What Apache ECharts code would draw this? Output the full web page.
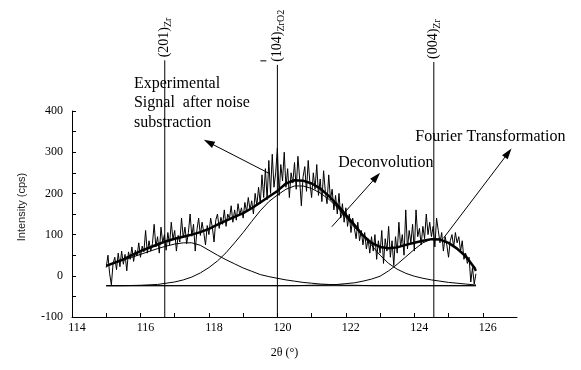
<!DOCTYPE html>
<html><head><meta charset="utf-8">
<script src="https://cdn.jsdelivr.net/npm/echarts@6/dist/echarts.min.js"></script>
<style>html,body{margin:0;padding:0;background:#fff}#c{width:581px;height:370px}</style>
</head><body><div id="c"></div>
<script>
// ---------- data ----------
const xTickLabels = [114, 116, 118, 120, 122, 124, 126];
const xTickMarks = [114, 115, 116, 117, 118, 119, 120, 121, 122, 123, 124, 125, 126];
const yTickLabels = [-100, 0, 100, 200, 300, 400];
const yTickMarks = [-100, -50, 0, 50, 100, 150, 200, 250, 300, 350, 400];

// experimental signal, sampled every 0.05 deg from 115.00 to 125.80
const signalStart = 115.0;
const signalStep = 0.05;
const signal = [
  20, 50, 5, -22, 30,
  45, 15, 55, 22, 60,
  28, 52, 12, 58, 40,
  70, 35, 62, 48, 80,
  45, 72, 58, 110, 55,
  85, 60, 78, 125, 70,
  95, 55, 118, 80, 100,
  62, 105, 75, 130, 88,
  110, 60, 98, 82, 140,
  92, 118, 78, 105, 150,
  96, 125, 60, 112, 140,
  98, 130, 105, 75, 122,
  100, 140, 118, 82, 135,
  150, 115, 142, 125, 160,
  120, 150, 138, 170, 130,
  160, 135, 175, 148, 165,
  140, 178, 155, 190, 160,
  182, 150, 200, 170, 215,
  175, 245, 190, 260, 185,
  280, 200, 295, 215, 250,
  310, 195, 270, 230, 300,
  215, 260, 190, 250, 225,
  275, 210, 290, 235, 170,
  240, 265, 205, 280, 225,
  190, 250, 210, 270, 195,
  235, 180, 255, 205, 175,
  245, 185, 210, 160, 195,
  150, 200, 140, 175, 130,
  165, 120, 150, 105, 140,
  115, 90, 130, 85, 110,
  75, 105, 65, 90, 55,
  95, 60, 100, 40, 85,
  55, 110, 30, 90, 60,
  120, 45, 85, 25, 95,
  55, 130, 70, 100, 50,
  160, 65, 110, 80, 125,
  60, 160, 95, 115, 75,
  120, 90, 150, 100, 130,
  95, 120, 70, 140, 110,
  80, 105, 60, 95, 75,
  45, 85, 100, 70, 105,
  80, 95, 60, 85, 40,
  55, 30, 45, -15, 20, -20, 5
];

// smooth curves, sampled on curveX
const curveX = [115, 115.25, 115.5, 115.75, 116, 116.25, 116.5, 116.75, 117, 117.25, 117.5, 117.75,
  118, 118.25, 118.5, 118.75, 119, 119.25, 119.5, 119.75, 120, 120.25, 120.5, 120.75,
  121, 121.25, 121.5, 121.75, 122, 122.25, 122.5, 122.75, 123, 123.25, 123.5, 123.75,
  124, 124.25, 124.5, 124.75, 125, 125.25, 125.5, 125.75, 125.8];
const fourierCurve = [24, 32, 40, 50, 60, 68, 76, 84, 90, 95, 100, 106,
  114, 124, 134, 143, 152, 164, 178, 192, 206, 224, 232, 231,
  224, 212, 194, 172, 148, 124, 98, 80, 70, 67, 69, 75,
  80, 85, 89, 88, 80, 66, 48, 20, 12];
const peakZr201 = [24, 31, 38, 45, 52, 59, 66, 72, 77, 80, 80, 74,
  62, 50, 39, 29, 19, 11, 3, -2, -6, -10, -13, -16,
  -18, -20, -21, -22, -23, -23, -23.5, -24, -24, -24, -24, -24,
  -24, -24, -24, -24, -24, -24, -24, -24, -24];
const peakZrO2 = [-24, -24, -24, -23.5, -23, -22, -21, -18, -15, -10, -3, 7,
  20, 36, 56, 80, 105, 132, 158, 180, 196, 210, 218, 218,
  212, 201, 186, 166, 142, 118, 96, 74, 50, 30, 16, 6,
  -1, -6, -10, -13, -16, -18, -20, -22, -22];
const peakZr004 = [-24, -24, -24, -24, -24, -24, -24, -24, -24, -24, -24, -24,
  -24, -24, -24, -24, -24, -24, -24, -24, -24, -24, -24, -23.5,
  -23, -22.5, -22, -21, -19, -17, -13, -8, -1, 12, 28, 46,
  64, 80, 89, 89, 80, 64, 44, 22, 18];
const baselineX = [115, 125.8];
const baselineY = [-24, -24];

// reflection positions (2theta) and their labels
const reflections = [116.71, 120.0, 124.57];
const reflectionLabels = ['(201){s|Zr}', '(104){s|ZrO2}', '(004){s|Zr}'];

// ---------- build ----------
const zip = (xs, ys) => xs.map((x, i) => [x, ys[i]]);
const signalData = signal.map((v, i) => [+(signalStart + i * signalStep).toFixed(2), v]);

const SERIF = '"Liberation Serif", "Times New Roman", serif';
const lineStyle = w => ({ color: '#000', width: w });
const mk = (name, data, w) => ({
  name, type: 'line', data, showSymbol: false, symbol: 'none',
  lineStyle: lineStyle(w), silent: true, animation: false, z: 3
});

const option = {
  animation: false,
  backgroundColor: '#fff',
  grid: { left: 72, right: 64, top: 111, bottom: 53, containLabel: false },
  xAxis: {
    type: 'value', min: 114, max: 127,
    name: '2θ (°)', nameLocation: 'middle', nameGap: 30,
    nameTextStyle: { fontFamily: SERIF, fontSize: 12, color: '#000', padding: [0, 20, 0, 0] },
    axisLine: { show: true, onZero: false, lineStyle: { color: '#000', width: 1 } },
    axisTick: { show: true, inside: true, length: 4, customValues: xTickMarks, lineStyle: { color: '#000' } },
    axisLabel: { customValues: xTickLabels, fontFamily: SERIF, fontSize: 12, color: '#000', margin: 5, padding: [0, 0, 0, 10] },
    splitLine: { show: false }
  },
  yAxis: {
    type: 'value', min: -100, max: 400,
    name: 'Intensity (cps)', nameLocation: 'middle', nameGap: 45, nameRotate: 90,
    nameTextStyle: { fontFamily: '"Liberation Sans", Arial, sans-serif', fontSize: 11, color: '#222', padding: [0, 0, 0, 14] },
    axisLine: { show: true, onZero: false, lineStyle: { color: '#000', width: 1 } },
    axisTick: { show: true, inside: true, length: 4, customValues: yTickMarks, lineStyle: { color: '#000' } },
    axisLabel: { customValues: yTickLabels, fontFamily: SERIF, fontSize: 12, color: '#000', margin: 9 },
    splitLine: { show: false }
  },
  series: [
    mk('Experimental signal', signalData, 1),
    mk('Fourier transformation', zip(curveX, fourierCurve), 2.5),
    mk('(201) Zr', zip(curveX, peakZr201), 1),
    mk('(-104) ZrO2', zip(curveX, peakZrO2), 1),
    mk('(004) Zr', zip(curveX, peakZr004), 1),
    mk('Baseline', zip(baselineX, baselineY), 1)
  ]
};

const chart = echarts.init(document.getElementById('c'), null, { renderer: 'canvas' });
chart.setOption(option);

// ---------- annotations (anchored in data coordinates) ----------
const refTops = [523, 512, 519];
const arrows = [
  { from: [119.75, 249], to: [117.85, 330] },
  { from: [121.59, 119], to: [123.0, 250] },
  { from: [124.85, 91], to: [126.84, 309] }
];
const notes = [
  { at: [115.81, 490], text: 'Experimental\nSignal  after noise\nsubstraction' },
  { at: [121.78, 298], text: 'Deconvolution' },
  { at: [124.03, 361], text: 'Fourier Transformation' }
];

const P = (x, y) => chart.convertToPixel({ gridIndex: 0 }, [x, y]);
const g = [];
reflections.forEach((rx, i) => {
  const b = P(rx, -100), t = P(rx, refTops[i]);
  g.push({ type: 'line', silent: true, shape: { x1: b[0], y1: b[1], x2: t[0], y2: t[1] }, style: { stroke: '#000', lineWidth: 1 } });
  g.push({
    type: 'text', silent: true, x: t[0], y: t[1] - 3, rotation: Math.PI / 2,
    style: {
      text: reflectionLabels[i], fill: '#000', fontFamily: SERIF, fontSize: 14,
      align: 'left', verticalAlign: 'middle', textAlign: 'left', textVerticalAlign: 'middle',
      rich: { s: { fontFamily: SERIF, fontSize: 10, fill: '#000', padding: [7, 0, 0, 0] } }
    }
  });
  if (i === 1) {
    g.push({ type: 'line', silent: true, shape: { x1: t[0] - 17, y1: t[1] - 4, x2: t[0] - 11, y2: t[1] - 4 }, style: { stroke: '#000', lineWidth: 1 } });
  }
});
arrows.forEach(a => {
  const f = P(a.from[0], a.from[1]), t = P(a.to[0], a.to[1]);
  const dx = t[0] - f[0], dy = t[1] - f[1], len = Math.hypot(dx, dy);
  const ux = dx / len, uy = dy / len, L = 11, W = 3.5;
  const bx = t[0] - ux * L, by = t[1] - uy * L;
  g.push({ type: 'line', silent: true, shape: { x1: f[0], y1: f[1], x2: bx + ux * 2, y2: by + uy * 2 }, style: { stroke: '#000', lineWidth: 1 } });
  g.push({ type: 'polygon', silent: true, shape: { points: [[t[0], t[1]], [bx - uy * W, by + ux * W], [bx + uy * W, by - ux * W]] }, style: { fill: '#000' } });
});
notes.forEach(n => {
  const p = P(n.at[0], n.at[1]);
  g.push({
    type: 'text', silent: true, x: p[0], y: p[1],
    style: { text: n.text, fill: '#000', fontFamily: SERIF, fontSize: 16, lineHeight: 19.5,
      align: 'left', verticalAlign: 'top', textAlign: 'left', textVerticalAlign: 'top' }
  });
});
chart.setOption({ graphic: { elements: g } });
</script>
</body></html>
